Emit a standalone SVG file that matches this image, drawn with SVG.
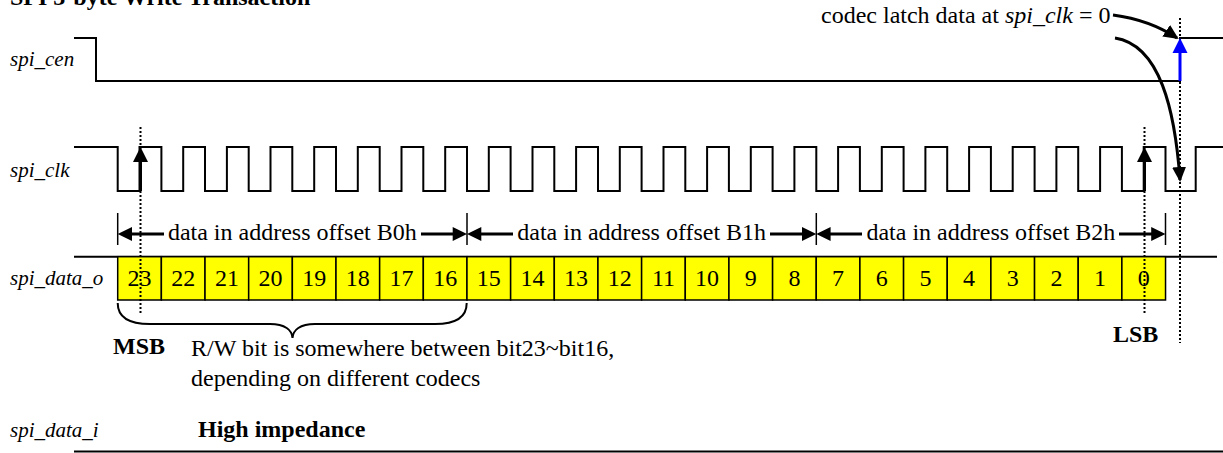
<svg xmlns="http://www.w3.org/2000/svg" width="1223" height="453" viewBox="0 0 1223 453">
<style>
text{font-family:"Liberation Serif","Times New Roman",serif;fill:#000}
.lbl{font-style:italic;font-size:21px}
.t{font-size:24px}
.b{font-size:24px;font-weight:bold}
.num{font-size:24px;text-anchor:middle}
.w{fill:none;stroke:#000;stroke-width:2}
.dot{stroke:#000;stroke-width:2;stroke-dasharray:2 2}
.dim{stroke:#000;stroke-width:3}
.tick{stroke:#000;stroke-width:1.5}
.cell{fill:#FFFF00;stroke:#000;stroke-width:1.5}
</style>
<defs>
<marker id="ah" markerWidth="16" markerHeight="14" refX="13" refY="7" orient="auto" markerUnits="userSpaceOnUse"><path d="M0,0 L15,7 L0,14 z" fill="#000"/></marker>
</defs>

<text class="b" x="10" y="5">SPI 3-byte Write Transaction</text>

<g id="spi_cen">
<text class="lbl" x="10" y="66">spi_cen</text>
<path class="w" d="M74,38 H96 V81 H1180 V38 H1223"/>
</g>

<g id="spi_clk">
<text class="lbl" x="10" y="177">spi_clk</text>
<path class="w" d="M74,147 H117.7 V191 H139.5 V147 H161.4 V191 H183.2 V147 H205 V191 H226.9 V147 H248.7 V191 H270.5 V147 H292.3 V191 H314.2 V147 H336 V191 H357.8 V147 H379.7 V191 H401.5 V147 H423.3 V191 H445.2 V147 H467 V191 H488.8 V147 H510.6 V191 H532.5 V147 H554.3 V191 H576.1 V147 H598 V191 H619.8 V147 H641.6 V191 H663.5 V147 H685.3 V191 H707.1 V147 H728.9 V191 H750.8 V147 H772.6 V191 H794.4 V147 H816.3 V191 H838.1 V147 H859.9 V191 H881.8 V147 H903.6 V191 H925.4 V147 H947.2 V191 H969.1 V147 H990.9 V191 H1012.7 V147 H1034.6 V191 H1056.4 V147 H1078.2 V191 H1100.1 V147 H1121.9 V191 H1143.7 V147 H1165.5 V191 H1195.7 V147 H1223"/>
</g>

<g id="spi_data_o">
<text class="lbl" x="10" y="285">spi_data_o</text>
<line class="w" x1="74" y1="256.7" x2="1217" y2="256.7"/>
<g>
<rect class="cell" x="117.7" y="256.7" width="43.66" height="43.3"/>
<rect class="cell" x="161.36" y="256.7" width="43.66" height="43.3"/>
<rect class="cell" x="205.02" y="256.7" width="43.66" height="43.3"/>
<rect class="cell" x="248.68" y="256.7" width="43.66" height="43.3"/>
<rect class="cell" x="292.34" y="256.7" width="43.66" height="43.3"/>
<rect class="cell" x="336" y="256.7" width="43.66" height="43.3"/>
<rect class="cell" x="379.66" y="256.7" width="43.66" height="43.3"/>
<rect class="cell" x="423.32" y="256.7" width="43.66" height="43.3"/>
<rect class="cell" x="466.98" y="256.7" width="43.66" height="43.3"/>
<rect class="cell" x="510.64" y="256.7" width="43.66" height="43.3"/>
<rect class="cell" x="554.3" y="256.7" width="43.66" height="43.3"/>
<rect class="cell" x="597.96" y="256.7" width="43.66" height="43.3"/>
<rect class="cell" x="641.62" y="256.7" width="43.66" height="43.3"/>
<rect class="cell" x="685.28" y="256.7" width="43.66" height="43.3"/>
<rect class="cell" x="728.94" y="256.7" width="43.66" height="43.3"/>
<rect class="cell" x="772.6" y="256.7" width="43.66" height="43.3"/>
<rect class="cell" x="816.26" y="256.7" width="43.66" height="43.3"/>
<rect class="cell" x="859.92" y="256.7" width="43.66" height="43.3"/>
<rect class="cell" x="903.58" y="256.7" width="43.66" height="43.3"/>
<rect class="cell" x="947.24" y="256.7" width="43.66" height="43.3"/>
<rect class="cell" x="990.9" y="256.7" width="43.66" height="43.3"/>
<rect class="cell" x="1034.56" y="256.7" width="43.66" height="43.3"/>
<rect class="cell" x="1078.22" y="256.7" width="43.66" height="43.3"/>
<rect class="cell" x="1121.88" y="256.7" width="43.66" height="43.3"/>
</g>
<g>
<text class="num" x="139.5" y="286">23</text>
<text class="num" x="183.2" y="286">22</text>
<text class="num" x="226.9" y="286">21</text>
<text class="num" x="270.5" y="286">20</text>
<text class="num" x="314.2" y="286">19</text>
<text class="num" x="357.8" y="286">18</text>
<text class="num" x="401.5" y="286">17</text>
<text class="num" x="445.2" y="286">16</text>
<text class="num" x="488.8" y="286">15</text>
<text class="num" x="532.5" y="286">14</text>
<text class="num" x="576.1" y="286">13</text>
<text class="num" x="619.8" y="286">12</text>
<text class="num" x="663.5" y="286">11</text>
<text class="num" x="707.1" y="286">10</text>
<text class="num" x="750.8" y="286">9</text>
<text class="num" x="794.4" y="286">8</text>
<text class="num" x="838.1" y="286">7</text>
<text class="num" x="881.8" y="286">6</text>
<text class="num" x="925.4" y="286">5</text>
<text class="num" x="969.1" y="286">4</text>
<text class="num" x="1012.7" y="286">3</text>
<text class="num" x="1056.4" y="286">2</text>
<text class="num" x="1100.1" y="286">1</text>
<text class="num" x="1143.7" y="286">0</text>
</g>
</g>

<g id="dimensions">
<line class="tick" x1="117.7" y1="213" x2="117.7" y2="245"/>
<line class="tick" x1="467" y1="213" x2="467" y2="245"/>
<line class="tick" x1="816.3" y1="213" x2="816.3" y2="245"/>
<line class="tick" x1="1165.5" y1="213" x2="1165.5" y2="245"/>
<line class="dim" x1="128" y1="234" x2="164" y2="234"/>
<line class="dim" x1="421" y1="234" x2="456" y2="234"/>
<line class="dim" x1="478" y1="234" x2="513" y2="234"/>
<line class="dim" x1="770" y1="234" x2="805" y2="234"/>
<line class="dim" x1="827" y1="234" x2="862" y2="234"/>
<line class="dim" x1="1119" y1="234" x2="1155" y2="234"/>
<path d="M117.7,234 L132,227 L132,241 z M467,234 L452.7,227 L452.7,241 z M467,234 L481.3,227 L481.3,241 z M816.3,234 L802,227 L802,241 z M816.3,234 L830.6,227 L830.6,241 z M1165.5,234 L1151.2,227 L1151.2,241 z" fill="#000"/>
<text class="t" x="292.3" y="240" text-anchor="middle">data in address offset B0h</text>
<text class="t" x="641.7" y="240" text-anchor="middle">data in address offset B1h</text>
<text class="t" x="990.9" y="240" text-anchor="middle">data in address offset B2h</text>
</g>

<g id="markers">
<line class="dot" x1="140.5" y1="127" x2="140.5" y2="313"/>
<line class="dot" x1="1144.5" y1="127" x2="1144.5" y2="313"/>
<line class="dot" x1="1180" y1="18" x2="1180" y2="343"/>
<line stroke="#000" stroke-width="3" x1="140.5" y1="191" x2="140.5" y2="160"/>
<path d="M140.5,147 L133,162 L148,162 z" fill="#000"/>
<line stroke="#000" stroke-width="3" x1="1144.5" y1="191" x2="1144.5" y2="160"/>
<path d="M1144.5,147 L1137,162 L1152,162 z" fill="#000"/>
<line stroke="#0000FF" stroke-width="3" x1="1180" y1="81" x2="1180" y2="51"/>
<path d="M1180,38 L1172.5,53 L1187.5,53 z" fill="#0000FF"/>
<text class="b" x="113" y="354">MSB</text>
<text class="b" x="1113" y="342">LSB</text>
</g>

<g id="brace">
<path class="w" d="M117.7,303 C117.7,318 130,324 150,324 L270,324 C285,324 292,330 292.5,338 C293,330 300,324 315,324 L435,324 C455,324 466.7,318 466.7,303"/>
<text class="t" x="191" y="356">R/W bit is somewhere between bit23~bit16,</text>
<text class="t" x="191" y="386">depending on different codecs</text>
</g>

<g id="annotation">
<text class="t" x="821" y="23">codec latch data at <tspan font-style="italic">spi_clk</tspan> = 0</text>
</g>

<g id="connectors">
<path d="M1113,15 Q1150,20 1177,38" fill="none" stroke="#000" stroke-width="3" marker-end="url(#ah)"/>
<path d="M1115,38 C1160,45 1175,110 1180,180" fill="none" stroke="#000" stroke-width="3" marker-end="url(#ah)"/>
</g>

<g id="spi_data_i">
<text class="lbl" x="10" y="437">spi_data_i</text>
<text class="b" x="198" y="437">High impedance</text>
<line class="w" x1="74" y1="451.5" x2="1223" y2="451.5"/>
</g>
</svg>
